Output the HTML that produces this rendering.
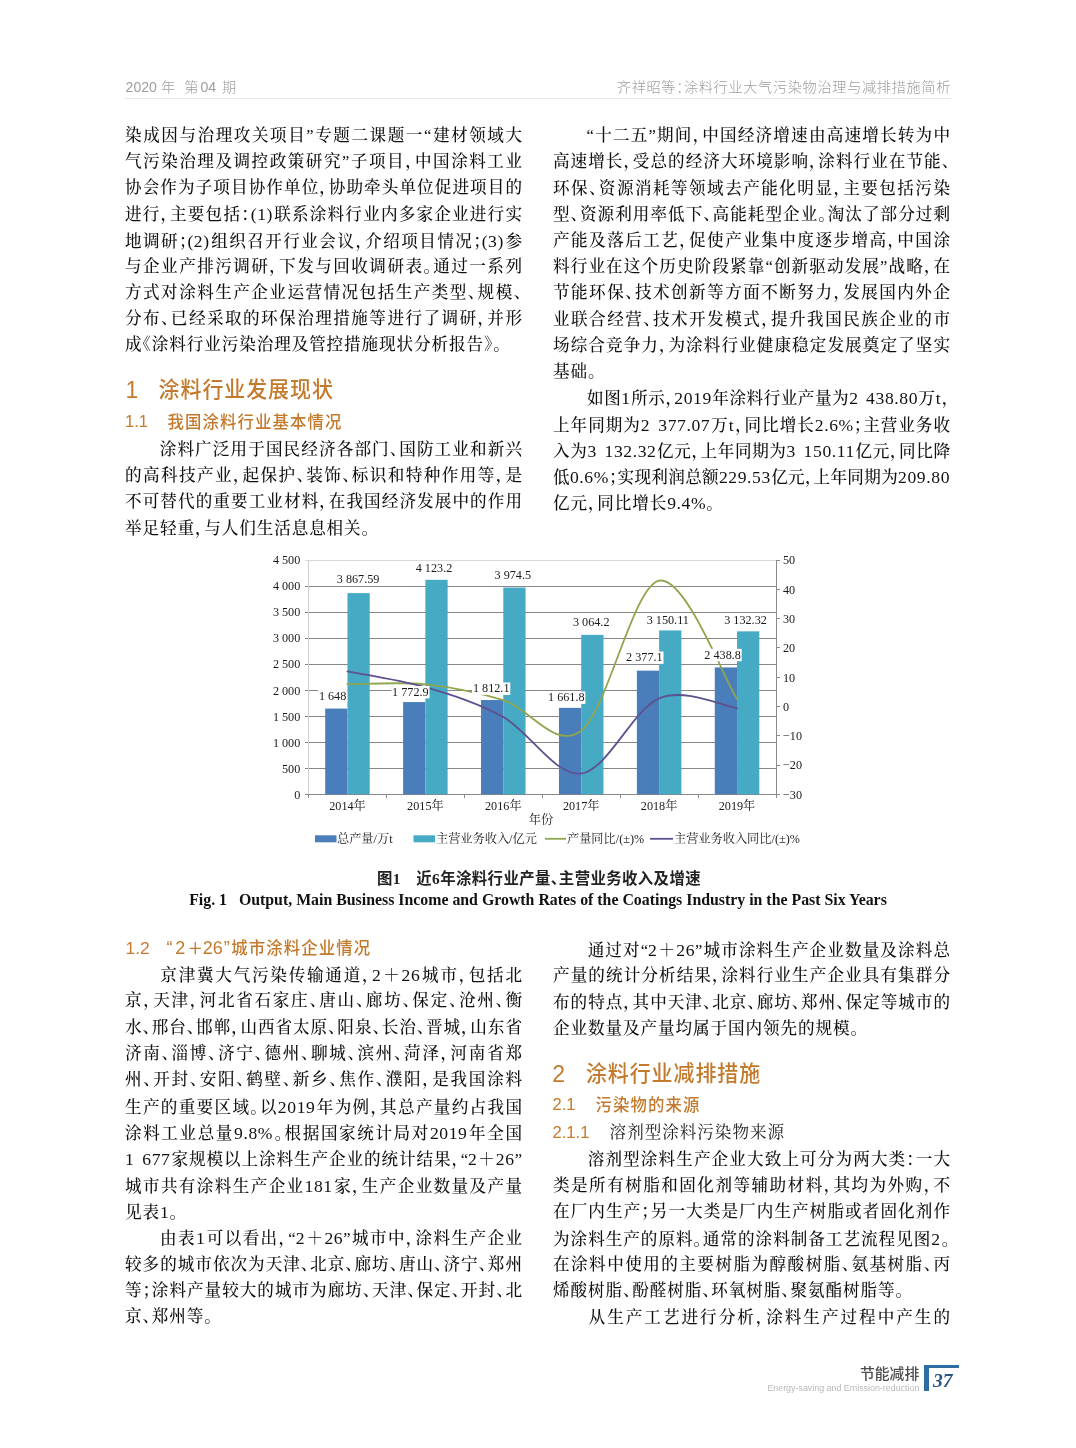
<!DOCTYPE html>
<html lang="zh-CN"><head><meta charset="utf-8"><title>涂料行业大气污染物治理与减排措施简析</title>
<style>
html,body{margin:0;padding:0;background:#fff;}
body{width:1076px;height:1448px;position:relative;overflow:hidden;font-family:"Liberation Serif","Noto Serif CJK SC",serif;color:#1a1a1a;}
.l{position:absolute;height:26px;line-height:26px;font-size:16.6px;text-align:justify;text-align-last:justify;white-space:nowrap;font-feature-settings:"halt";font-weight:500;color:#111;}
.l.e{text-align:left;text-align-last:left;letter-spacing:0.9px;}
.n{font-size:17.6px;letter-spacing:0.6px;word-spacing:2px;}
.in{display:inline-block;width:33.6px;}
.h{position:absolute;font-family:"Liberation Sans","Noto Sans CJK SC",sans-serif;color:#c47a2c;white-space:nowrap;}
.h1{font-size:22px;height:30px;line-height:30px;font-weight:500;}
.h2{font-size:16.5px;height:24px;line-height:24px;font-weight:500;}
.h3{font-size:16.5px;height:24px;line-height:24px;font-weight:400;}
.hd{position:absolute;font-family:"Liberation Sans","Noto Sans CJK SC",sans-serif;color:#9e9e9e;font-size:14.2px;height:20px;line-height:20px;white-space:nowrap;font-weight:300;}
.hn{font-size:14.1px;}
</style></head><body>
<div class="hd" style="left:125.6px;top:76.5px;"><span class="hn">2020</span><span style="margin-left:4.0px">年</span><span style="margin-left:9px">第</span><span class="hn" style="margin-left:2.1px">04</span><span style="margin-left:5.9px">期</span></div>
<div class="hd" style="right:125px;top:76.5px;letter-spacing:0.65px;font-feature-settings:'halt'">齐祥昭等：涂料行业大气污染物治理与减排措施简析</div>
<div style="position:absolute;left:125px;top:98px;width:826px;height:1px;background:#e8e8e8;"></div>
<div class="l" style="left:125px;top:122.9px;width:397px;">染成因与治理攻关项目”专题二课题一“建材领域大</div>
<div class="l" style="left:125px;top:149.1px;width:397px;">气污染治理及调控政策研究”子项目，中国涂料工业</div>
<div class="l" style="left:125px;top:175.3px;width:397px;">协会作为子项目协作单位，协助牵头单位促进项目的</div>
<div class="l" style="left:125px;top:201.4px;width:397px;">进行，主要包括：<span class="n">(1)</span>联系涂料行业内多家企业进行实</div>
<div class="l" style="left:125px;top:227.6px;width:397px;">地调研；<span class="n">(2)</span>组织召开行业会议，介绍项目情况；<span class="n">(3)</span>参</div>
<div class="l" style="left:125px;top:253.8px;width:397px;">与企业产排污调研，下发与回收调研表。通过一系列</div>
<div class="l" style="left:125px;top:280.0px;width:397px;">方式对涂料生产企业运营情况包括生产类型、规模、</div>
<div class="l" style="left:125px;top:306.2px;width:397px;">分布、已经采取的环保治理措施等进行了调研，并形</div>
<div class="l e" style="left:125px;top:332.3px;width:397px;">成《涂料行业污染治理及管控措施现状分析报告》。</div>
<div class="h" style="left:125.5px;top:375.1px;height:30px;line-height:30px;font-size:23px;">1</div>
<div class="h" style="left:158.6px;top:375.1px;height:30px;line-height:30px;font-size:21px;letter-spacing:0.9px;font-weight:500;transform:scaleY(1.03);transform-origin:0 23px;">涂料行业发展现状</div>
<div class="h" style="left:125px;top:407.2px;height:30px;line-height:30px;font-size:16.6px;">1.1</div>
<div class="h" style="left:167.6px;top:407.2px;height:30px;line-height:30px;font-size:16.4px;letter-spacing:1.1px;font-weight:500;transform:scaleY(1.06);transform-origin:0 23px;">我国涂料行业基本情况</div>
<div class="l" style="left:125px;top:436.8px;width:397px;"><span class="in"></span>涂料广泛用于国民经济各部门、国防工业和新兴</div>
<div class="l" style="left:125px;top:463.1px;width:397px;">的高科技产业，起保护、装饰、标识和特种作用等，是</div>
<div class="l" style="left:125px;top:489.4px;width:397px;">不可替代的重要工业材料，在我国经济发展中的作用</div>
<div class="l e" style="left:125px;top:515.7px;width:397px;">举足轻重，与人们生活息息相关。</div>
<div class="l" style="left:553px;top:123.0px;width:397px;"><span class="in"></span>“十二五”期间，中国经济增速由高速增长转为中</div>
<div class="l" style="left:553px;top:149.2px;width:397px;">高速增长，受总的经济大环境影响，涂料行业在节能、</div>
<div class="l" style="left:553px;top:175.5px;width:397px;">环保、资源消耗等领域去产能化明显，主要包括污染</div>
<div class="l" style="left:553px;top:201.7px;width:397px;">型、资源利用率低下、高能耗型企业。淘汰了部分过剩</div>
<div class="l" style="left:553px;top:227.9px;width:397px;">产能及落后工艺，促使产业集中度逐步增高，中国涂</div>
<div class="l" style="left:553px;top:254.1px;width:397px;">料行业在这个历史阶段紧靠“创新驱动发展”战略，在</div>
<div class="l" style="left:553px;top:280.4px;width:397px;">节能环保、技术创新等方面不断努力，发展国内外企</div>
<div class="l" style="left:553px;top:306.6px;width:397px;">业联合经营、技术开发模式，提升我国民族企业的市</div>
<div class="l" style="left:553px;top:332.8px;width:397px;">场综合竞争力，为涂料行业健康稳定发展奠定了坚实</div>
<div class="l e" style="left:553px;top:359.1px;width:397px;">基础。</div>
<div class="l" style="left:553px;top:385.3px;width:397px;"><span class="in"></span>如图<span class="n">1</span>所示，<span class="n">2019</span>年涂料行业产量为<span class="n">2 438.80</span>万<span class="n">t</span>，</div>
<div class="l" style="left:553px;top:411.5px;width:397px;">上年同期为<span class="n">2 377.07</span>万<span class="n">t</span>，同比增长<span class="n">2.6%</span>；主营业务收</div>
<div class="l" style="left:553px;top:437.8px;width:397px;">入为<span class="n">3 132.32</span>亿元，上年同期为<span class="n">3 150.11</span>亿元，同比降</div>
<div class="l" style="left:553px;top:464.0px;width:397px;">低<span class="n">0.6%</span>；实现利润总额<span class="n">229.53</span>亿元，上年同期为<span class="n">209.80</span></div>
<div class="l e" style="left:553px;top:490.2px;width:397px;">亿元，同比增长<span class="n">9.4%</span>。</div>
<svg width="1076" height="320" viewBox="0 540 1076 320" style="position:absolute;left:0;top:540px;" font-family="'Liberation Serif','Noto Serif CJK SC',serif" font-size="12.2" fill="#1a1a1a">
<g shape-rendering="crispEdges">
<line x1="304.5" x2="776.0" y1="560.20" y2="560.20" stroke="#d9d9d9" stroke-width="1"/>
<line x1="304.5" x2="776.0" y1="586.21" y2="586.21" stroke="#878787" stroke-width="1"/>
<line x1="304.5" x2="776.0" y1="612.22" y2="612.22" stroke="#878787" stroke-width="1"/>
<line x1="304.5" x2="776.0" y1="638.23" y2="638.23" stroke="#878787" stroke-width="1"/>
<line x1="304.5" x2="776.0" y1="664.24" y2="664.24" stroke="#878787" stroke-width="1"/>
<line x1="304.5" x2="776.0" y1="690.26" y2="690.26" stroke="#878787" stroke-width="1"/>
<line x1="304.5" x2="776.0" y1="716.27" y2="716.27" stroke="#878787" stroke-width="1"/>
<line x1="304.5" x2="776.0" y1="742.28" y2="742.28" stroke="#878787" stroke-width="1"/>
<line x1="304.5" x2="776.0" y1="768.29" y2="768.29" stroke="#878787" stroke-width="1"/>
<line x1="304.5" x2="776.0" y1="794.30" y2="794.30" stroke="#878787" stroke-width="1"/>
<line x1="308.5" x2="308.5" y1="560.2" y2="794.3" stroke="#d0d0d0" stroke-width="1"/>
<line x1="776.0" x2="776.0" y1="560.2" y2="794.3" stroke="#8a8a8a" stroke-width="1"/>
<line x1="776.0" x2="780.0" y1="560.20" y2="560.20" stroke="#8a8a8a" stroke-width="1"/>
<line x1="776.0" x2="780.0" y1="589.46" y2="589.46" stroke="#8a8a8a" stroke-width="1"/>
<line x1="776.0" x2="780.0" y1="618.73" y2="618.73" stroke="#8a8a8a" stroke-width="1"/>
<line x1="776.0" x2="780.0" y1="647.99" y2="647.99" stroke="#8a8a8a" stroke-width="1"/>
<line x1="776.0" x2="780.0" y1="677.25" y2="677.25" stroke="#8a8a8a" stroke-width="1"/>
<line x1="776.0" x2="780.0" y1="706.51" y2="706.51" stroke="#8a8a8a" stroke-width="1"/>
<line x1="776.0" x2="780.0" y1="735.77" y2="735.77" stroke="#8a8a8a" stroke-width="1"/>
<line x1="776.0" x2="780.0" y1="765.04" y2="765.04" stroke="#8a8a8a" stroke-width="1"/>
<line x1="776.0" x2="780.0" y1="794.30" y2="794.30" stroke="#8a8a8a" stroke-width="1"/>
<line x1="308.5" x2="308.5" y1="794.3" y2="797.8" stroke="#8a8a8a" stroke-width="1"/>
<line x1="386.4" x2="386.4" y1="794.3" y2="797.8" stroke="#8a8a8a" stroke-width="1"/>
<line x1="464.3" x2="464.3" y1="794.3" y2="797.8" stroke="#8a8a8a" stroke-width="1"/>
<line x1="542.2" x2="542.2" y1="794.3" y2="797.8" stroke="#8a8a8a" stroke-width="1"/>
<line x1="620.2" x2="620.2" y1="794.3" y2="797.8" stroke="#8a8a8a" stroke-width="1"/>
<line x1="698.1" x2="698.1" y1="794.3" y2="797.8" stroke="#8a8a8a" stroke-width="1"/>
<line x1="776.0" x2="776.0" y1="794.3" y2="797.8" stroke="#8a8a8a" stroke-width="1"/>
</g>
<rect x="325.20" y="708.57" width="22.26" height="85.73" fill="#4a7ebb"/>
<rect x="347.46" y="593.10" width="22.26" height="201.20" fill="#46aac5"/>
<rect x="403.11" y="702.07" width="22.26" height="92.23" fill="#4a7ebb"/>
<rect x="425.38" y="579.80" width="22.26" height="214.50" fill="#46aac5"/>
<rect x="481.03" y="700.03" width="22.26" height="94.27" fill="#4a7ebb"/>
<rect x="503.29" y="587.54" width="22.26" height="206.76" fill="#46aac5"/>
<rect x="558.95" y="707.85" width="22.26" height="86.45" fill="#4a7ebb"/>
<rect x="581.21" y="634.89" width="22.26" height="159.41" fill="#46aac5"/>
<rect x="636.86" y="670.64" width="22.26" height="123.66" fill="#4a7ebb"/>
<rect x="659.12" y="630.42" width="22.26" height="163.88" fill="#46aac5"/>
<rect x="714.78" y="667.43" width="22.26" height="126.87" fill="#4a7ebb"/>
<rect x="737.04" y="631.35" width="22.26" height="162.95" fill="#46aac5"/>
<path d="M347.46,684.27 C360.44,684.28 399.40,681.70 425.38,684.33 C451.35,686.97 477.32,692.33 503.29,700.07 C529.26,707.82 555.24,750.70 581.21,730.80 C607.18,710.90 633.15,586.00 659.12,580.68 C685.10,575.37 724.06,679.20 737.04,698.90" fill="none" stroke="#8fa64f" stroke-width="1.8" stroke-linecap="round"/>
<path d="M347.46,671.40 C360.44,674.03 399.40,679.59 425.38,687.20 C451.35,694.81 477.32,702.66 503.29,717.05 C529.26,731.43 555.24,776.64 581.21,773.52 C607.18,770.40 633.15,709.19 659.12,698.32 C685.10,687.44 724.06,706.61 737.04,708.27" fill="none" stroke="#5f5190" stroke-width="1.8" stroke-linecap="round"/>
<text x="358.1" y="583.1" text-anchor="middle">3 867.59</text>
<text x="434.0" y="571.8" text-anchor="middle">4 123.2</text>
<text x="512.8" y="579.1" text-anchor="middle">3 974.5</text>
<text x="591.2" y="626.3" text-anchor="middle">3 064.2</text>
<text x="667.8" y="623.6" text-anchor="middle">3 150.11</text>
<text x="745.5" y="623.6" text-anchor="middle">3 132.32</text>
<rect x="318.1" y="689.8" width="29.1" height="12.4" fill="#fff"/>
<text x="332.6" y="699.6" text-anchor="middle">1 648</text>
<rect x="391.3" y="686.0" width="38.2" height="12.4" fill="#fff"/>
<text x="410.4" y="695.8" text-anchor="middle">1 772.9</text>
<rect x="472.1" y="682.5" width="38.2" height="12.4" fill="#fff"/>
<text x="491.2" y="692.3" text-anchor="middle">1 812.1</text>
<rect x="547.2" y="691.5" width="38.2" height="12.4" fill="#fff"/>
<text x="566.3" y="701.3" text-anchor="middle">1 661.8</text>
<rect x="625.3" y="651.5" width="38.2" height="12.4" fill="#fff"/>
<text x="644.4" y="661.3" text-anchor="middle">2 377.1</text>
<rect x="703.5" y="648.8" width="38.2" height="12.4" fill="#fff"/>
<text x="722.6" y="658.6" text-anchor="middle">2 438.8</text>
<text x="300.3" y="564.4" text-anchor="end">4 500</text>
<text x="300.3" y="590.4" text-anchor="end">4 000</text>
<text x="300.3" y="616.4" text-anchor="end">3 500</text>
<text x="300.3" y="642.4" text-anchor="end">3 000</text>
<text x="300.3" y="668.4" text-anchor="end">2 500</text>
<text x="300.3" y="694.5" text-anchor="end">2 000</text>
<text x="300.3" y="720.5" text-anchor="end">1 500</text>
<text x="300.3" y="746.5" text-anchor="end">1 000</text>
<text x="300.3" y="772.5" text-anchor="end">500</text>
<text x="300.3" y="798.5" text-anchor="end">0</text>
<text x="783" y="564.4">50</text>
<text x="783" y="593.7">40</text>
<text x="783" y="622.9">30</text>
<text x="783" y="652.2">20</text>
<text x="783" y="681.5">10</text>
<text x="783" y="710.7">0</text>
<text x="783" y="740.0">−10</text>
<text x="783" y="769.2">−20</text>
<text x="783" y="798.5">−30</text>
<text x="347.5" y="810" text-anchor="middle">2014年</text>
<text x="425.4" y="810" text-anchor="middle">2015年</text>
<text x="503.3" y="810" text-anchor="middle">2016年</text>
<text x="581.2" y="810" text-anchor="middle">2017年</text>
<text x="659.1" y="810" text-anchor="middle">2018年</text>
<text x="737.0" y="810" text-anchor="middle">2019年</text>
<text x="541" y="824" text-anchor="middle">年份</text>
<rect x="315" y="835.3" width="21.5" height="7" fill="#4a7ebb"/>
<text x="337" y="843.1">总产量/万t</text>
<rect x="413.5" y="835.3" width="21.5" height="7" fill="#46aac5"/>
<text x="436" y="843.1">主营业务收入/亿元</text>
<line x1="545" x2="566" y1="838.8" y2="838.8" stroke="#8fa64f" stroke-width="1.8"/>
<text x="567" y="843.1">产量同比/(±)%</text>
<line x1="650" x2="673" y1="838.8" y2="838.8" stroke="#5f5190" stroke-width="1.8"/>
<text x="674" y="843.1">主营业务收入同比/(±)%</text>
</svg>

<div style="position:absolute;left:1px;width:1076px;top:869px;height:20px;line-height:20px;text-align:center;font-family:'Liberation Sans','Noto Sans CJK SC',sans-serif;font-size:15.4px;font-weight:700;color:#222;white-space:nowrap;letter-spacing:0.4px;font-feature-settings:'halt';"><span style="font-family:'Liberation Serif','Noto Sans CJK SC',serif;font-weight:700">图1</span><span style="display:inline-block;width:15.4px"></span>近<span style="font-family:'Liberation Serif',serif;font-weight:700">6</span>年涂料行业产量、主营业务收入及增速</div>
<div style="position:absolute;left:0;width:1076px;top:889.7px;height:20px;line-height:20px;text-align:center;font-family:'Liberation Serif',serif;font-size:15.85px;font-weight:700;color:#111;white-space:nowrap;">Fig. 1&nbsp;&nbsp;&nbsp;Output, Main Business Income and Growth Rates of the Coatings Industry in the Past Six Years</div>
<div class="h" style="left:125.6px;top:932.9px;height:30px;line-height:30px;font-size:17.4px;">1.2</div>
<div class="h" style="left:163.6px;top:932.9px;height:30px;line-height:30px;font-size:16.4px;letter-spacing:1.1px;font-weight:500;transform:scaleY(1.06);transform-origin:0 23px;"><span style='font-size:18px;letter-spacing:0;margin-left:3px'>“</span><span style='font-size:18px;letter-spacing:0;margin-left:2.6px'>2</span><span style='font-size:15.5px;letter-spacing:0;margin:0 -0.4px 0 2.4px'>＋</span><span style='font-size:18px;letter-spacing:0'>26</span><span style='font-size:18px;letter-spacing:0;margin:0 1.6px 0 1px'>”</span>城市涂料企业情况</div>
<div class="l" style="left:125px;top:961.8px;width:397px;"><span class="in"></span>京津冀大气污染传输通道，<span class="n">2</span>＋<span class="n">26</span>城市，包括北</div>
<div class="l" style="left:125px;top:988.1px;width:397px;">京，天津，河北省石家庄、唐山、廊坊、保定、沧州、衡</div>
<div class="l" style="left:125px;top:1014.5px;width:397px;">水、邢台、邯郸，山西省太原、阳泉、长治、晋城，山东省</div>
<div class="l" style="left:125px;top:1040.8px;width:397px;">济南、淄博、济宁、德州、聊城、滨州、菏泽，河南省郑</div>
<div class="l" style="left:125px;top:1067.2px;width:397px;">州、开封、安阳、鹤壁、新乡、焦作、濮阳，是我国涂料</div>
<div class="l" style="left:125px;top:1093.5px;width:397px;">生产的重要区域。以<span class="n">2019</span>年为例，其总产量约占我国</div>
<div class="l" style="left:125px;top:1119.9px;width:397px;">涂料工业总量<span class="n">9.8%</span>。根据国家统计局对<span class="n">2019</span>年全国</div>
<div class="l" style="left:125px;top:1146.2px;width:397px;"><span class="n">1 677</span>家规模以上涂料生产企业的统计结果，“<span class="n">2</span>＋<span class="n">26</span>”</div>
<div class="l" style="left:125px;top:1172.6px;width:397px;">城市共有涂料生产企业<span class="n">181</span>家，生产企业数量及产量</div>
<div class="l e" style="left:125px;top:1199.0px;width:397px;">见表<span class="n">1</span>。</div>
<div class="l" style="left:125px;top:1225.3px;width:397px;"><span class="in"></span>由表<span class="n">1</span>可以看出，“<span class="n">2</span>＋<span class="n">26</span>”城市中，涂料生产企业</div>
<div class="l" style="left:125px;top:1251.7px;width:397px;">较多的城市依次为天津、北京、廊坊、唐山、济宁、郑州</div>
<div class="l" style="left:125px;top:1278.0px;width:397px;">等；涂料产量较大的城市为廊坊、天津、保定、开封、北</div>
<div class="l e" style="left:125px;top:1304.3px;width:397px;">京、郑州等。</div>
<div class="l" style="left:553px;top:937.0px;width:397px;"><span class="in"></span>通过对“<span class="n">2</span>＋<span class="n">26</span>”城市涂料生产企业数量及涂料总</div>
<div class="l" style="left:553px;top:963.4px;width:397px;">产量的统计分析结果，涂料行业生产企业具有集群分</div>
<div class="l" style="left:553px;top:989.7px;width:397px;">布的特点，其中天津、北京、廊坊、郑州、保定等城市的</div>
<div class="l e" style="left:553px;top:1016.1px;width:397px;">企业数量及产量均属于国内领先的规模。</div>
<div class="h" style="left:552.3px;top:1058.7px;height:30px;line-height:30px;font-size:23px;">2</div>
<div class="h" style="left:585.9px;top:1058.7px;height:30px;line-height:30px;font-size:21px;letter-spacing:0.9px;font-weight:500;transform:scaleY(1.03);transform-origin:0 23px;">涂料行业减排措施</div>
<div class="h" style="left:552.5px;top:1089.5px;height:30px;line-height:30px;font-size:16.6px;">2.1</div>
<div class="h" style="left:595.6px;top:1089.5px;height:30px;line-height:30px;font-size:16.4px;letter-spacing:1.1px;font-weight:500;transform:scaleY(1.06);transform-origin:0 23px;">污染物的来源</div>
<div class="h" style="left:552.5px;top:1118.4px;height:30px;line-height:30px;font-size:16.6px;">2.1.1</div>
<div class="h" style="left:609.6px;top:1118.4px;height:30px;line-height:30px;font-size:16.6px;letter-spacing:0.95px;font-weight:400;font-family:'Liberation Serif','Noto Serif CJK SC',serif;color:#222;">溶剂型涂料污染物来源</div>
<div class="l" style="left:553px;top:1146.5px;width:397px;"><span class="in"></span>溶剂型涂料生产企业大致上可分为两大类：一大</div>
<div class="l" style="left:553px;top:1172.8px;width:397px;">类是所有树脂和固化剂等辅助材料，其均为外购，不</div>
<div class="l" style="left:553px;top:1199.2px;width:397px;">在厂内生产；另一大类是厂内生产树脂或者固化剂作</div>
<div class="l" style="left:553px;top:1225.5px;width:397px;">为涂料生产的原料。通常的涂料制备工艺流程见图<span class="n">2</span>。</div>
<div class="l" style="left:553px;top:1251.9px;width:397px;">在涂料中使用的主要树脂为醇酸树脂、氨基树脂、丙</div>
<div class="l e" style="left:553px;top:1278.2px;width:397px;">烯酸树脂、酚醛树脂、环氧树脂、聚氨酯树脂等。</div>
<div class="l" style="left:553px;top:1304.6px;width:397px;"><span class="in"></span>从生产工艺进行分析，涂料生产过程中产生的</div>
<div style="position:absolute;right:156.8px;top:1362.5px;height:22px;line-height:22px;font-family:'Liberation Sans','Noto Sans CJK SC',sans-serif;font-size:14.8px;color:#4d4d4d;white-space:nowrap;font-weight:500;">节能减排</div>
<div style="position:absolute;right:156.7px;top:1382.3px;height:12px;line-height:12px;font-family:'Liberation Sans',sans-serif;font-size:8.88px;color:#b8b8b8;white-space:nowrap;">Energy-saving and Emission-reduction</div>
<div style="position:absolute;left:924px;top:1365px;width:34.7px;height:3px;background:#2e6da4;"></div>
<div style="position:absolute;left:924px;top:1365px;width:5px;height:25.5px;background:#2e6da4;"></div>
<div style="position:absolute;left:933px;top:1368.5px;height:24px;line-height:24px;font-family:'Liberation Serif',serif;font-style:italic;font-weight:700;font-size:19.6px;color:#2a5585;">37</div>
</body></html>
